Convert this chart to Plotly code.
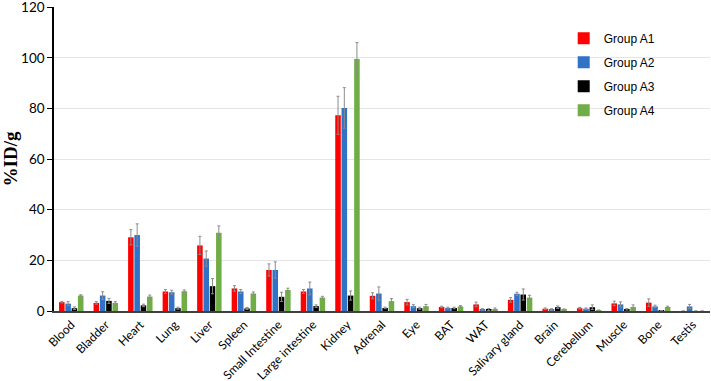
import plotly.graph_objects as go

organs = ["Blood", "Bladder", "Heart", "Lung", "Liver", "Spleen", "Small Intestine",
          "Large intestine", "Kidney", "Adrenal", "Eye", "BAT", "WAT", "Salivary gland",
          "Brain", "Cerebellum", "Muscle", "Bone", "Testis"]

group_names = ["Group A1", "Group A2", "Group A3", "Group A4"]

a1 = [3.5, 3.2, 29.1, 7.7, 25.9, 8.9, 16.2, 7.7, 77.3, 6.0, 3.5, 1.6, 2.6, 4.4, 0.9, 1.1, 3.0, 3.3, 0.0]
a1_err = [0.3, 0.5, 3.0, 0.8, 3.6, 1.1, 2.4, 0.8, 7.5, 1.2, 1.1, 0.3, 0.9, 0.9, 0.3, 0.3, 0.9, 1.5, 0.0]
a2 = [2.9, 6.1, 30.0, 7.4, 20.7, 7.7, 16.2, 8.9, 80.2, 6.9, 1.9, 1.2, 0.6, 6.8, 0.6, 0.9, 2.6, 1.8, 1.8]
a2_err = [0.8, 1.5, 4.4, 0.8, 3.0, 0.8, 3.2, 2.5, 8.0, 2.6, 0.6, 0.3, 0.3, 0.6, 0.3, 0.3, 1.0, 0.5, 0.8]
a3 = [1.1, 4.0, 2.2, 1.1, 9.8, 1.0, 5.6, 1.9, 6.1, 1.2, 1.1, 1.2, 0.6, 6.5, 1.5, 1.5, 0.7, 0.1, 0.0]
a3_err = [0.5, 1.0, 0.5, 0.4, 3.0, 0.4, 1.8, 0.5, 1.8, 0.3, 0.4, 0.3, 0.4, 2.2, 0.5, 0.9, 0.3, 0.1, 0.0]
a4 = [6.1, 3.2, 5.7, 7.8, 30.9, 6.9, 8.3, 5.3, 99.5, 3.9, 1.9, 1.8, 0.7, 5.3, 0.6, 0.3, 1.6, 1.6, 0.0]
a4_err = [0.3, 0.5, 0.6, 0.5, 2.7, 0.6, 0.7, 0.5, 6.5, 1.0, 0.7, 0.3, 0.5, 0.9, 0.2, 0.1, 0.8, 0.3, 0.0]

colors = ["#FF0000", "#2F72C6", "#000000", "#70AD47"]
series = [a1, a2, a3, a4]
errors = [a1_err, a2_err, a3_err, a4_err]

y_ticks = [0, 20, 40, 60, 80, 100, 120]

fig = go.Figure()
for name, vals, errs, col in zip(group_names, series, errors, colors):
    fig.add_trace(go.Bar(
        x=organs, y=vals, name=name, legendgroup=name,
        marker=dict(color=col, line=dict(width=0)),
        error_y=dict(type="data", array=errs, visible=True,
                     color="#8C8C8C", thickness=1, width=1.5),
    ))

fig.update_layout(
    width=711, height=381,
    margin=dict(l=54, r=1, t=7, b=70),
    paper_bgcolor="white", plot_bgcolor="white",
    barmode="group", bargap=0.27, bargroupgap=0.12,
    font=dict(family="Lato, Liberation Sans, sans-serif", color="#000000"),
    legend=dict(x=0.777, y=0.945, xanchor="left", yanchor="top",
                font=dict(family="Liberation Sans, Arial, sans-serif", size=12),
                tracegroupgap=5, bgcolor="rgba(0,0,0,0)"),
    showlegend=True,
)
fig.update_xaxes(
    tickangle=-45, tickfont=dict(size=12),
    showline=True, linecolor="#404040", linewidth=2,
    ticks="", showgrid=False, automargin=False,
)
fig.update_yaxes(
    range=[0, 120.05], tickvals=y_ticks, tickfont=dict(size=13.5),
    showline=True, linecolor="#000000", linewidth=1.5,
    ticks="outside", ticklen=5, tickcolor="#000000",
    showgrid=True, gridcolor="#E4E4E4", gridwidth=1,
    ticklabeloverflow="allow", automargin=False,
    title=dict(text="<b>%ID/g</b>", font=dict(family="Liberation Serif, Times New Roman, serif", size=19),
               standoff=8),
    zeroline=False,
)

fig.write_html("out.html", config={"displayModeBar": False},
               post_script="document.body.style.margin='0';")
